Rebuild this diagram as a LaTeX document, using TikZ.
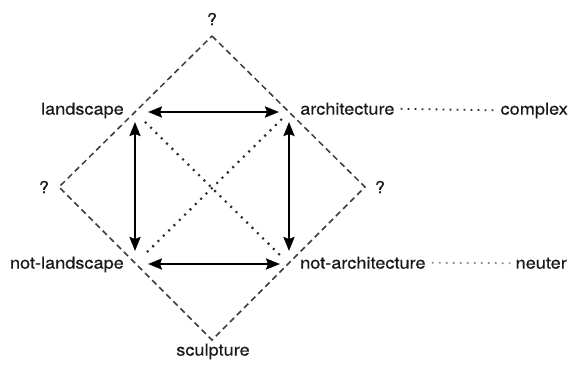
\documentclass[tikz,border=0pt]{standalone}
\usepackage{fontspec}
\setmainfont{TeX Gyre Heros}[FakeStretch=1.1,FakeBold=0.4]
\usetikzlibrary{arrows.meta}
\definecolor{inkc}{HTML}{1A1A1A}
\definecolor{dashc}{HTML}{3C3C3C}
\definecolor{dotc}{HTML}{2A2A2A}
\definecolor{lightdotc}{HTML}{8C8C8C}
\begin{document}
\begin{tikzpicture}[x=1pt,y=-1pt,
  lbl/.style={inner sep=0pt,text=inkc,font=\fontsize{16.5}{19}\selectfont},
  diamondline/.style={draw=dashc,line width=1.5pt,dash pattern=on 6pt off 4pt},
  relarrow/.style={draw=black,line width=2.3pt,{Stealth[length=14pt,width=11pt,inset=2pt]}-{Stealth[length=14pt,width=11pt,inset=2pt]}},
  diagdots/.style={draw=dotc,line width=2.2pt,dash pattern=on 2pt off 5.5pt},
  sidedots/.style={draw=dotc,line width=1.8pt,dash pattern=on 1.8pt off 5.2pt,shorten <=6pt,shorten >=5pt}]
\useasboundingbox (0,0) rectangle (569,367);
\fill[white] (0,0) rectangle (569,367);
% diamond vertices
\coordinate (T) at (212,36);
\coordinate (R) at (365,187);
\coordinate (B) at (212,340);
\coordinate (Lf) at (59,187);
% square corners
\coordinate (L) at (135,112);
\coordinate (A) at (289,112);
\coordinate (NL) at (135,264);
\coordinate (NA) at (289,264);
\draw[diamondline] (T) -- (R) -- (B) -- (Lf) -- cycle;
% arrows
\draw[relarrow,shorten <=13pt,shorten >=10pt] (L) -- (A);
\draw[relarrow,shorten <=13pt,shorten >=9pt] (NL) -- (NA);
\draw[relarrow,shorten <=10pt,shorten >=13pt] (L) -- (NL);
\draw[relarrow,shorten <=10pt,shorten >=13pt] (A) -- (NA);
% diagonals
\draw[diagdots,shorten <=14pt,shorten >=12pt] (L) -- (NA);
\draw[diagdots,shorten <=10pt,shorten >=14pt] (A) -- (NL);
% labels
\node[lbl,anchor=mid east] (land) at (124,112) {landscape};
\node[lbl,anchor=mid west] (arch) at (300,112) {architecture};
\node[lbl,anchor=mid east] (compl) at (568,112) {complex};
\node[lbl,anchor=mid east] (nland) at (124,266) {not-landscape};
\node[lbl,anchor=mid west] (narch) at (300,266) {not-architecture};
\node[lbl,anchor=mid east] (neut) at (567,266) {neuter};
\node[lbl] (qt) at (212,19) {?};
\node[lbl] (ql) at (44,187) {?};
\node[lbl] (qr) at (380,187) {?};
\node[lbl,anchor=mid] (sculp) at (213,353) {sculpture};
\draw[sidedots] (arch.east) -- (compl.west);
\draw[sidedots,draw=lightdotc] (narch.east) -- (neut.west);
\end{tikzpicture}
\end{document}
